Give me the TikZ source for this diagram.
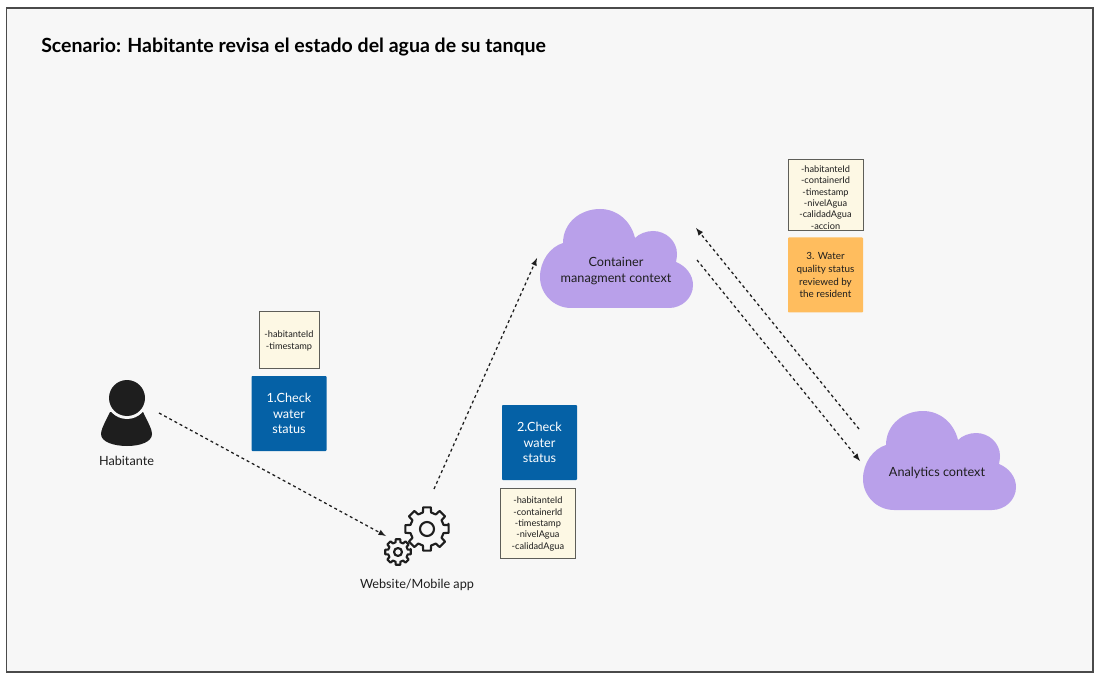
\documentclass[tikz,border=0pt]{standalone}
\usepackage{fontspec}
\setmainfont{Lato}
\usetikzlibrary{arrows,positioning}
\definecolor{pagebg}{HTML}{F7F7F7}
\definecolor{framec}{HTML}{4A4A4A}
\definecolor{inkc}{HTML}{1E1E1E}
\definecolor{bluec}{HTML}{0561A6}
\definecolor{notec}{HTML}{FDF8E4}
\definecolor{notedraw}{HTML}{5E5E58}
\definecolor{orangec}{HTML}{FFBD5E}
\definecolor{cloudc}{HTML}{B9A0EA}
\tikzset{
    bluebox/.style={fill=bluec, rounded corners=0.6pt, minimum width=56.25pt, minimum height=56.25pt, inner sep=0pt, align=center, text=white, font=\fontsize{9.5}{11.6}\selectfont},
    orangebox/.style={fill=orangec, rounded corners=0.6pt, minimum width=56.25pt, minimum height=56.25pt, inner sep=0pt, align=center, text=inkc, font=\fontsize{7.4}{9.7}\selectfont},
    notebox/.style={fill=notec, draw=notedraw, line width=0.75pt, inner sep=0pt, align=center, text=inkc, font=\fontsize{6.9}{8.55}\selectfont},
    msgline/.style={-latex, dash pattern=on 2.2pt off 2.2pt, line width=0.95pt, inkc},
    label/.style={text=inkc, font=\fontsize{9.5}{12}\selectfont, align=center},
    gearline/.style={draw=inkc, line width=1.6pt, line join=round},
    cloudshape/.pic={
        \fill[cloudc] (23,34) .. controls (23,14) and (40,0) .. (60,0)
            .. controls (77,0) and (91,12) .. (95,29)
            .. controls (99,25) and (106,22) .. (113,22)
            .. controls (126,22) and (137,32) .. (137,45)
            .. controls (137,48) and (136.5,50) .. (136,53)
            .. controls (146,57) and (153,66) .. (153,76)
            .. controls (153,89) and (142,99) .. (129,99)
            -- (31,99) .. controls (14,99) and (0,85) .. (0,68)
            .. controls (0,52) and (10,38) .. (23,34) -- cycle;
    }
}
% center, outer radius, inner radius, hole radius
\newcommand{\drawgear}[4]{
    \begin{scope}[shift={#1}]
        \draw[gearline] (-14:#2)
            \foreach \a in {0,45,...,315}{
                -- (\a-10:#2) -- (\a+10:#2) -- (\a+14:#3) -- (\a+31:#3) -- (\a+35:#2)
            } -- cycle;
        \draw[gearline] (0,0) circle (#4);
    \end{scope}
}
\begin{document}
\begin{tikzpicture}[x=0.75pt, y=-0.75pt]
    \useasboundingbox (0,0) rectangle (1095,673);
    \fill[white] (0,0) rectangle (1095,673);
    \draw[fill=pagebg, draw=framec, line width=1.1pt] (6.5,8) rectangle (1093,672);

    \node[anchor=west, inner sep=0pt, font=\fontsize{14.65}{17}\selectfont\bfseries] (title) at (41,47) {Scenario: Habitante revisa el estado del agua de su tanque};

    % person
    \fill[inkc] (110,412) .. controls (104,424) and (101,430) .. (101,434) .. controls (101,442) and (114,446) .. (127,446)
        .. controls (140,446) and (152,442) .. (152,434) .. controls (152,430) and (149,424) .. (143,412) -- cycle;
    \fill[pagebg] (127,398) circle (21);
    \fill[inkc] (127,398) circle (18);
    \node[label] (habitante) at (126.5,461) {Habitante};

    % gears
    \drawgear{(427,529)}{22}{17}{7}
    \drawgear{(398,552)}{13}{10}{4}
    \node[label] (webapp) at (417,585) {Website/Mobile app};

    % clouds
    \pic at (540,209) {cloudshape};
    \pic at (863,411) {cloudshape};
    \node[label] (container) at (616,271) {Container\\managment context};
    \node[label] (analytics) at (937,473) {Analytics context};

    % step boxes and their data
    \node[bluebox] (check1) at (289,413.5) {1.Check\\water\\status};
    \node[notebox, minimum width=45pt, minimum height=42.75pt, text depth=-1.6pt, above=5pt of check1] (data1) {-habitanteId\\-timestamp};
    \node[bluebox] (check2) at (539.5,442.5) {2.Check\\water\\status};
    \node[notebox, minimum width=56.25pt, minimum height=52.5pt, text depth=-0.8pt, below=5.5pt of check2, xshift=-1.2pt] (data2) {-habitanteId\\-containerId\\-timestamp\\-nivelAgua\\-calidadAgua};
    \node[orangebox] (review) at (825.5,275) {3. Water\\quality status\\reviewed by\\the resident};
    \node[notebox, minimum width=56.25pt, minimum height=53.25pt, above=5pt of review] (data3) {\rule{0pt}{9.5pt}-habitanteId\\-containerId\\-timestamp\\-nivelAgua\\-calidadAgua\\-accion};

    % free ends of the messages
    \coordinate (a1) at (159,413);
    \coordinate (a2) at (386,536);
    \coordinate (b1) at (434,489);
    \coordinate (b2) at (537,258);
    \coordinate (c1) at (859,429);
    \coordinate (c2) at (696,228);
    \coordinate (d1) at (697,260);
    \coordinate (d2) at (860,461);
    \draw[msgline] (a1) -- (a2);
    \draw[msgline] (b1) -- (b2);
    \draw[msgline] (c1) -- (c2);
    \draw[msgline] (d1) -- (d2);
\end{tikzpicture}
\end{document}
